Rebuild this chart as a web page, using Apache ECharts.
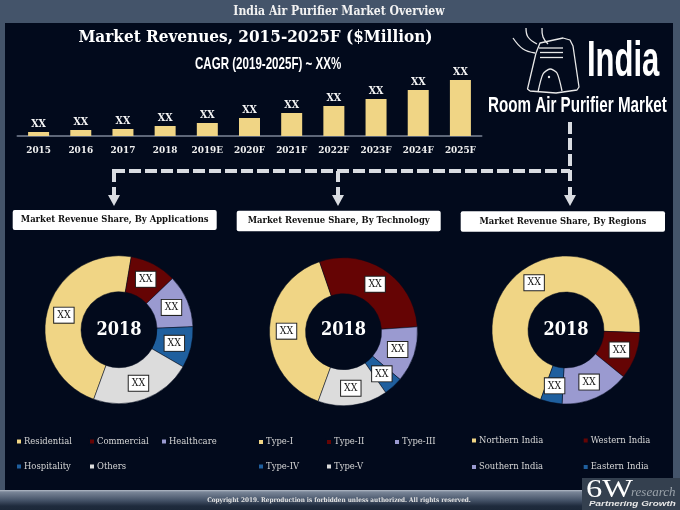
<![CDATA[<!DOCTYPE html>
<html><head><meta charset="utf-8">
<style>html,body{margin:0;padding:0;background:#44546a}#c{width:680px;height:510px}</style>
<script src="https://cdn.jsdelivr.net/npm/echarts@6/dist/echarts.min.js"></script>
</head><body><div id="c"></div>
<script>
const years = ['2015','2016','2017','2018','2019E','2020F','2021F','2022F','2023F','2024F','2025F'];
const revenues = [4,6,7,10,13,18,23,30,37,46,56];
const appNames = ['Residential','Commercial','Healthcare','Hospitality','Others'];
const appValues = [47.1,10.2,11.5,9,22.2];
const techNames = ['Type-I','Type-II','Type-III','Type-IV','Type-V'];
const techValues = [39.2,29.2,12.2,4.2,15.2];
const regionNames = ['Northern India','Western India','Southern India','Eastern India'];
const regionValues = [70,10.3,15,4.7];
const palette = ['#f0d585','#650404','#9a9ad0','#1f5f9e','#dcdcdc'];
const regionPalette = ['#f0d585','#650404','#9a9ad0','#1f5f9e'];

const SERIF = '"DejaVu Serif Condensed","DejaVu Serif",serif';
const SANS = '"Liberation Sans",sans-serif';
const PANEL = '#020a1c';

function pie(names, values, colors, cx, cy){
  const start = 250;
  const total = values.reduce((a,b)=>a+b,0);
  return {
    type:'pie', radius:[38,74], center:[cx,cy], startAngle:start, clockwise:true,
    silent:true, animation:false, avoidLabelOverlap:false,
    itemStyle:{borderColor:PANEL,borderWidth:0.5},
    label:{show:true,position:'inside',formatter:'XX',color:'#111',fontFamily:SERIF,fontSize:10.5,
      backgroundColor:'#fff',borderColor:'#222',borderWidth:1,padding:[2,3,2,3],lineHeight:11},
    labelLine:{show:false},
    // pull each label about 2px toward the hole, as in the reference
    labelLayout:function(p){
      const before = values.slice(0,p.dataIndex).reduce((a,b)=>a+b,0);
      const a = (start - (before + values[p.dataIndex]/2)/total*360)*Math.PI/180;
      return {dx:-2*Math.cos(a), dy:2*Math.sin(a)};
    },
    data:names.map((n,i)=>({name:n,value:values[i],itemStyle:{color:colors[i]}}))
  };
}
function legend(name,x,y){
  return {data:[name],left:x,top:y,orient:'horizontal',icon:'rect',itemWidth:6,itemHeight:6,itemGap:3,
    padding:0,selectedMode:false,textStyle:{color:'#d6d6d6',fontFamily:SERIF,fontSize:9.4,padding:[0,0,0,-3]}};
}
function rrect(x,y,w,h,fill,r){return {type:'rect',shape:{x,y,width:w,height:h,r:r||0},style:{fill},silent:true};}
function txt(text,x,y,font,fill,align,scaleX){
  return {type:'text',x,y,scaleX:scaleX||1,style:{text,font,fill,align:align||'center',verticalAlign:'middle'},silent:true};
}
function line(pts,w,dash){
  return {type:'polyline',shape:{points:pts},style:{stroke:'#d9dce1',lineWidth:w,lineDash:dash||null,fill:null},silent:true};
}
function head(x){
  return {type:'polygon',shape:{points:[[x-6,195],[x+6,195],[x,206]]},style:{fill:'#d9dce1'},silent:true};
}
function icon(pts,smooth,w){
  return {type:'polyline',shape:{points:pts,smooth:smooth||0},style:{stroke:'#e8e8e8',fill:null,lineWidth:w||1.3,lineJoin:'round'},silent:true};
}
function titleBox(x,y,w,h,t){
  return [rrect(x,y,w,h,'#ffffff',2), txt(t,x+w/2,y+h/2,'bold 9.4px '+SERIF,'#111')];
}

const graphic = [
  rrect(0,0,680,510,'#44546a'),
  rrect(5,23,668,467,PANEL),
  {type:'rect',shape:{x:0,y:490,width:680,height:20},silent:true,style:{fill:{type:'linear',x:0,y:0,x2:0,y2:1,colorStops:[
    {offset:0,color:'#b4bcc8'},{offset:0.1,color:'#7a8698'},{offset:0.5,color:'#47556a'},{offset:0.8,color:'#1f2b3d'},{offset:1,color:'#1c2839'}]}}},
  txt('India Air Purifier Market Overview',339,11.5,'bold 12.1px '+SERIF,'#f2f2f2'),
  txt('Market Revenues, 2015-2025F ($Million)',255.5,37.5,'bold 17px '+SERIF,'#ffffff'),
  txt('CAGR (2019-2025F) ~ XX%',195,64,'bold 17px '+SANS,'#ffffff','left',0.68),
  txt('Copyright 2019. Reproduction is forbidden unless authorized. All rights reserved.',339,500,'bold 6.4px '+SERIF,'#e4e4e4'),
  // dashed connectors
  line([[114,182],[114,171],[125,171]],4),
  line([[129,171],[570,171]],4,[12,4]),
  line([[570,122],[570,181]],4,[12,4]),
  line([[338,171],[338,182]],4),
  line([[114,187],[114,196]],4), head(114),
  line([[338,187],[338,196]],4), head(338),
  line([[570,187],[570,196]],4), head(570),
  // logo
  icon([[530,91],[527.5,89],[536,53],[540,43],[563,38],[570,40],[573,46],[579,87],[577,90],[556,93],[530,91]]),
  icon([[538,92],[543,74],[550,69],[557,73],[562,91]],0.25),
  icon([[539,48],[563,48]]),icon([[540,52.5],[563,52.5]]),icon([[540,57.5],[563,57.5]]),
  icon([[513,38],[523,49],[535,53]],0.4),
  icon([[526,28],[528,37],[537,44]],0.4),
  icon([[542,28],[543,37],[548,44]],0.4),
  {type:'circle',shape:{cx:549,cy:77,r:1.2},style:{fill:'#e8e8e8'},silent:true},
  txt('India',587,62,'bold 50px '+SANS,'#ffffff','left',0.62),
  txt('Room Air Purifier Market',488,106,'bold 22px '+SANS,'#ffffff','left',0.69),
  ...titleBox(12.7,210,204,20,'Market Revenue Share, By Applications'),
  ...titleBox(236.7,210.7,204,20.6,'Market Revenue Share, By Technology'),
  ...titleBox(460.7,211.3,204.3,20.4,'Market Revenue Share, By Regions'),
  rrect(582,478,98,32,'#34404f'),
  txt('6W',586,490,'26px "Liberation Serif",serif','#ffffff','left',1.25),
  txt('research',631,493,'italic 13px "Liberation Serif",serif','#9aa2aa','left'),
  txt('Partnering Growth',589,504,'italic bold 6.5px "Liberation Sans",sans-serif','#e8e8e8','left',1.52),
  txt('2018',119,330.5,'bold 18px '+SERIF,'#ffffff'),
  txt('2018',343.5,330.5,'bold 18px '+SERIF,'#ffffff'),
  txt('2018',566,330.5,'bold 18px '+SERIF,'#ffffff')
];
graphic.forEach(g=>{ g.z=-1; });

const legends = [
  legend(appNames[0],15,437),legend(appNames[1],88,437),legend(appNames[2],160,437),
  legend(appNames[3],15,462),legend(appNames[4],88,462),
  legend(techNames[0],257,437.5),legend(techNames[1],325,437.5),legend(techNames[2],393,437.5),
  legend(techNames[3],257,462),legend(techNames[4],325,462),
  legend(regionNames[0],470,436),legend(regionNames[1],581.7,436),
  legend(regionNames[2],470,462.5),legend(regionNames[3],581.7,462.5)
];

const chart = echarts.init(document.getElementById('c'),null,{renderer:'canvas'});
chart.setOption({
  animation:false,
  backgroundColor:'#44546a',
  graphic:{elements:graphic},
  legend:legends,
  grid:{left:17.5,top:60,width:464,height:76,containLabel:false},
  xAxis:{type:'category',data:years,axisTick:{show:false},
    axisLine:{lineStyle:{color:'#5d6678',width:2}},
    axisLabel:{color:'#f0f0f0',fontFamily:SERIF,fontWeight:'bold',fontSize:9.9,margin:9,interval:0}},
  yAxis:{type:'value',min:0,max:76,show:false,splitLine:{show:false}},
  series:[
    {type:'bar',data:revenues,barWidth:21,silent:true,itemStyle:{color:'#f0d585'},
      label:{show:true,position:'top',formatter:'XX',color:'#f5f5f5',fontFamily:SERIF,fontWeight:'bold',fontSize:10.5,distance:2.5}},
    pie(appNames,appValues,palette,119,329.7),
    pie(techNames,techValues,palette,343.5,331.7),
    pie(regionNames,regionValues,regionPalette,566,330)
  ]
});
</script></body></html>]]>
